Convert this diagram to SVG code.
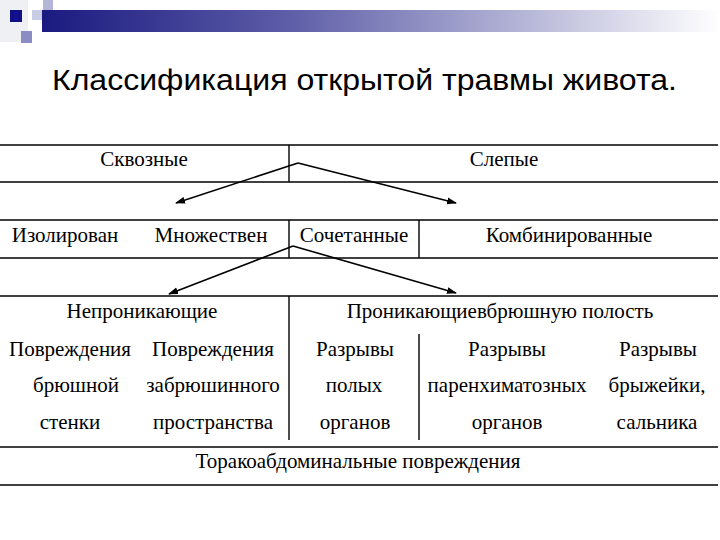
<svg xmlns="http://www.w3.org/2000/svg" width="720" height="540" viewBox="0 0 720 540">
<defs>
<linearGradient id="bar" x1="0" y1="0" x2="1" y2="0">
<stop offset="0" stop-color="#1a1a80"/>
<stop offset="0.35" stop-color="#5a5aa6"/>
<stop offset="1" stop-color="#ffffff"/>
</linearGradient>
<marker id="ah" markerWidth="10" markerHeight="8" refX="9" refY="4" orient="auto" markerUnits="userSpaceOnUse">
<path d="M0,0.5 L10,4 L0,7.5 z" fill="#000"/>
</marker>
<style>
.t{font-family:"Liberation Serif","Times New Roman",serif;font-size:21px;fill:#000;text-anchor:middle}
.h{font-family:"Liberation Sans",Arial,sans-serif;font-size:30px;fill:#000}
.ln{stroke:#000;stroke-width:1.4;fill:none}
.ar{stroke:#000;stroke-width:1.6;fill:none;marker-end:url(#ah)}
</style>
</defs>
<rect width="720" height="540" fill="#fff"/>
<g id="decor">
<rect x="0" y="0" width="28" height="42" fill="#eef0f4"/>
<rect x="32" y="10" width="12" height="10" fill="#c8cce4"/>
<rect x="43" y="0" width="10" height="14" fill="#b4b6d8"/>
<rect x="42" y="10" width="678" height="22" fill="url(#bar)"/>
<rect x="10" y="10" width="12" height="12" fill="#10108a"/>
<rect x="21" y="31" width="11" height="12" fill="#8c8cc4"/>
</g>
<text class="h" x="52" y="90" textLength="625" lengthAdjust="spacingAndGlyphs">Классификация открытой травмы живота.</text>
<g id="table" class="ln">
<line x1="0" y1="145" x2="718" y2="145"/>
<line x1="0" y1="182" x2="718" y2="182"/>
<line x1="0" y1="220" x2="718" y2="220"/>
<line x1="0" y1="258" x2="718" y2="258"/>
<line x1="0" y1="296" x2="718" y2="296"/>
<line x1="0" y1="447" x2="718" y2="447"/>
<line x1="0" y1="485" x2="718" y2="485"/>
<line x1="289" y1="145" x2="289" y2="182"/>
<line x1="289" y1="220" x2="289" y2="258"/>
<line x1="419" y1="220" x2="419" y2="258"/>
<line x1="289" y1="296" x2="289" y2="440"/>
<line x1="419" y1="334" x2="419" y2="440"/>
</g>
<g id="connectors">
<line class="ar" x1="298" y1="163" x2="176" y2="203"/>
<line class="ar" x1="298" y1="163" x2="456" y2="203"/>
<line class="ar" x1="293" y1="246" x2="169" y2="294"/>
<line class="ar" x1="293" y1="246" x2="456" y2="293"/>
</g>
<g id="n-skvoznye"><text class="t" x="144" y="166">Сквозные</text></g>
<g id="n-slepye"><text class="t" x="504" y="166">Слепые</text></g>
<g id="n-izol"><text class="t" x="65" y="242">Изолирован</text></g>
<g id="n-mnozh"><text class="t" x="211" y="242">Множествен</text></g>
<g id="n-sochet"><text class="t" x="354" y="242">Сочетанные</text></g>
<g id="n-kombin"><text class="t" x="569" y="242">Комбинированные</text></g>
<g id="n-nepron"><text class="t" x="142" y="318">Непроникающие</text></g>
<g id="n-pron"><text class="t" x="500" y="318">Проникающиевбрюшную полость</text></g>
<g id="n-p1"><text class="t" x="70" y="356">Повреждения</text><text class="t" x="76" y="392">брюшной</text><text class="t" x="70" y="429">стенки</text></g>
<g id="n-p2"><text class="t" x="213" y="356">Повреждения</text><text class="t" x="213" y="392">забрюшинного</text><text class="t" x="213" y="429">пространства</text></g>
<g id="n-r1"><text class="t" x="355" y="356">Разрывы</text><text class="t" x="354" y="392">полых</text><text class="t" x="355" y="429">органов</text></g>
<g id="n-r2"><text class="t" x="507" y="356">Разрывы</text><text class="t" x="507" y="392">паренхиматозных</text><text class="t" x="507" y="429">органов</text></g>
<g id="n-r3"><text class="t" x="658" y="356">Разрывы</text><text class="t" x="657" y="392">брыжейки,</text><text class="t" x="657" y="429">сальника</text></g>
<g id="n-torak"><text class="t" x="358" y="468">Торакоабдоминальные повреждения</text></g>
</svg>
